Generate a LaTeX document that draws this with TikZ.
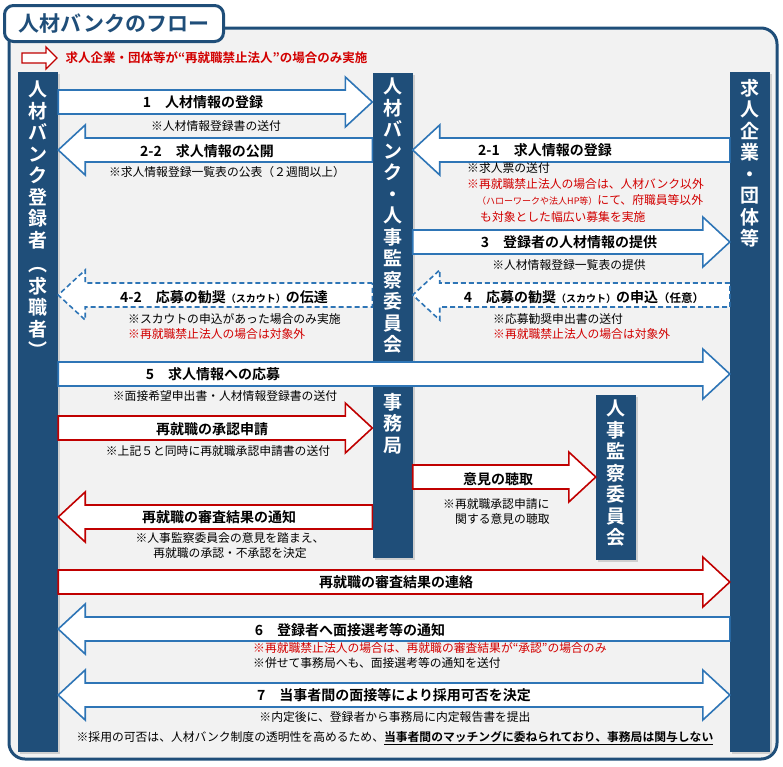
\documentclass[tikz,border=0pt]{standalone}
\usepackage{fontspec}
\setmainfont{Noto Sans CJK JP}[BoldFont={Noto Sans CJK JP Bold}]
\usetikzlibrary{positioning,calc,shadows}

\definecolor{colblue}{RGB}{31,78,121}
\definecolor{arrblue}{RGB}{46,117,182}
\definecolor{arrred}{RGB}{192,0,0}
\definecolor{notered}{RGB}{210,0,0}
\definecolor{panel}{RGB}{242,242,242}

\tikzset{
  col/.style={fill=colblue, minimum width=40pt, inner sep=0pt, anchor=north,
    drop shadow={opacity=0.3, shadow xshift=2pt, shadow yshift=-2pt}},
  coltext/.style={text=white, font=\bfseries\fontsize{19}{21.5}\selectfont, align=center, inner sep=0pt, anchor=north},
  bh/.store in=\bh, bH/.store in=\bH, bL/.store in=\bL,
  bh=12pt, bH=25pt, bL=27pt,
  block/.style={fill=white, line width=1.6pt, line join=miter, to path={
    let \p1=(\tikztostart), \p2=(\tikztotarget), \n1={sign(\x2-\x1)} in
    (\x1,\y1+\bh) -- (\x2-\n1*\bL,\y1+\bh) -- (\x2-\n1*\bL,\y1+\bH) -- (\x2,\y1)
    -- (\x2-\n1*\bL,\y1-\bH) -- (\x2-\n1*\bL,\y1-\bh) -- (\x1,\y1-\bh) -- cycle}},
  dblock/.style={fill=white, line width=1.6pt, line join=miter, to path={
    let \p1=(\tikztostart), \p2=(\tikztotarget), \n1={sign(\x2-\x1)} in
    (\x1,\y1) -- (\x1+\n1*\bL,\y1+\bH) -- (\x1+\n1*\bL,\y1+\bh) -- (\x2-\n1*\bL,\y1+\bh)
    -- (\x2-\n1*\bL,\y1+\bH) -- (\x2,\y1) -- (\x2-\n1*\bL,\y1-\bH) -- (\x2-\n1*\bL,\y1-\bh)
    -- (\x1+\n1*\bL,\y1-\bh) -- (\x1+\n1*\bL,\y1-\bH) -- cycle}},
  blueline/.style={draw=arrblue},
  redline/.style={draw=arrred},
  dashline/.style={draw=arrblue, dash pattern=on 5pt off 3pt},
  lab/.style={font=\bfseries\fontsize{14}{16}\selectfont, inner sep=0pt},
  note/.style={font=\fontsize{11.8}{15}\selectfont, inner sep=0pt},
}

\begin{document}
\begin{tikzpicture}[x=1pt, y=-1pt]
    \useasboundingbox (0,0) rectangle (783,766);
    % frame and title tab
    \draw[colblue, line width=3pt, fill=panel, rounded corners=16pt] (9,28) rectangle (777,759);
    \node (title) [anchor=north west, draw=colblue, line width=3pt, fill=white, rounded corners=9pt, minimum width=219pt, minimum height=36pt, text=colblue, font=\bfseries\fontsize{21}{24}\selectfont] at (3,4) {人材バンクのフロー};

    % legend
    \coordinate (lgA) at (22,58);
    \coordinate (lgB) at (57,58);
    \draw[block, redline, line width=1.4pt, bh=5pt, bH=11pt, bL=11pt] (lgA) to (lgB);
    \node (legend) [anchor=west, text=notered, font=\bfseries\fontsize{12.5}{14}\selectfont] at (62,58) {求人企業・団体等が“再就職禁止法人”の場合のみ実施};

    % columns
    \node (reg) [col, minimum height=680pt] at (38,72) {};
    \node (bank) [col, minimum height=485pt] at (392.5,73) {};
    \node (firm) [col, minimum height=680pt] at (750,72) {};
    \node (cmte) [col, minimum height=165pt] at (616,395) {};
    \node (regtxt) [coltext] at ([yshift=-9pt]reg.north) {人\\材\\バ\\ン\\ク\\登\\録\\者\\[3pt]︵\\求\\職\\者\\︶};
    \node (banktxt) [coltext] at ([yshift=-5pt]bank.north) {人\\材\\バ\\ン\\ク\\・\\人\\事\\監\\察\\委\\員\\会};
    \node (office) [coltext] at ([yshift=-320pt]bank.north) {事\\務\\局};
    \node (firmtxt) [coltext] at ([yshift=-7pt]firm.north) {求\\人\\企\\業\\・\\団\\体\\等};
    \node (cmtetxt) [coltext] at ([yshift=-5pt]cmte.north) {人\\事\\監\\察\\委\\員\\会};

    % flows
    \draw[block, blueline] (reg.east |- 0,102) to (bank.west |- 0,102);
    \draw[block, blueline] (bank.west |- 0,150) to (reg.east |- 0,150);
    \draw[block, blueline] (firm.west |- 0,150) to (bank.east |- 0,150);
    \draw[block, blueline] (bank.east |- 0,242) to (firm.west |- 0,242);
    \draw[block, dashline] (firm.west |- 0,295) to (bank.east |- 0,295);
    \draw[block, dashline] (bank.west |- 0,295) to (reg.east |- 0,295);
    \draw[block, blueline] (reg.east |- 0,374) to (firm.west |- 0,374);
    \draw[block, redline] (reg.east |- 0,428) to (bank.west |- 0,428);
    \draw[block, redline] (bank.east |- 0,477) to (cmte.west |- 0,477);
    \draw[block, redline] (bank.west |- 0,517) to (reg.east |- 0,517);
    \draw[block, redline] (reg.east |- 0,582) to (firm.west |- 0,582);
    \draw[block, blueline] (firm.west |- 0,629) to (reg.east |- 0,629);
    \draw[dblock, blueline] (reg.east |- 0,695) to (firm.west |- 0,695);

    % labels
    \node (l1) [lab] at (203,102) {1　人材情報の登録};
    \node (n1) [note] at (216,126) {※人材情報登録書の送付};
    \node (l22) [lab] at (207,151) {2-2　求人情報の公開};
    \node (n22) [note] at (227,172) {※求人情報登録一覧表の公表（２週間以上）};
    \node (l21) [lab] at (545,150) {2-1　求人情報の登録};
    \node (n21) [note, anchor=north west, align=left, font=\fontsize{11.8}{16.3}\selectfont] at (467,162) {※求人票の送付\\\textcolor{notered}{※再就職禁止法人の場合は、人材バンク以外}\\\hspace*{10pt}\textcolor{notered}{{\fontsize{9}{10}\selectfont（ハローワークや法人HP等）}にて、府職員等以外}\\\hspace*{13pt}\textcolor{notered}{も対象とした幅広い募集を実施}};
    \node (l3) [lab] at (569,242) {3　登録者の人材情報の提供};
    \node (n3) [note] at (569,265) {※人材情報登録一覧表の提供};
    \node (l4) [lab] at (584,297) {4　応募の勧奨{\fontsize{10}{12}\selectfont（スカウト）}の申込{\fontsize{11.5}{12}\selectfont（任意）}};
    \node (n4) [note, anchor=north west, align=left] at (493,313) {※応募勧奨申出書の送付\\\textcolor{notered}{※再就職禁止法人の場合は対象外}};
    \node (l42) [lab] at (224,297) {4-2　応募の勧奨{\fontsize{10}{12}\selectfont（スカウト）}の伝達};
    \node (n42) [note, anchor=north west, align=left] at (128,313) {※スカウトの申込があった場合のみ実施\\\textcolor{notered}{※再就職禁止法人の場合は対象外}};
    \node (l5) [lab] at (213,374) {5　求人情報への応募};
    \node (n5) [note] at (225,396) {※面接希望申出書・人材情報登録書の送付};
    \node (lok) [lab] at (212,429) {再就職の承認申請};
    \node (nok) [note] at (218,451) {※上記５と同時に再就職承認申請書の送付};
    \node (lop) [lab] at (498,479) {意見の聴取};
    \node (nop) [note, anchor=north west, align=left] at (443,498) {※再就職承認申請に\\\hspace*{12pt}関する意見の聴取};
    \node (lres) [lab] at (219,517) {再就職の審査結果の通知};
    \node (nres) [note, align=center] at (230,546) {※人事監察委員会の意見を踏まえ、\\再就職の承認・不承認を決定};
    \node (lcon) [lab] at (396,582) {再就職の審査結果の連絡};
    \node (l6) [lab] at (350,630) {6　登録者へ面接選考等の通知};
    \node (n6) [note, anchor=north west, align=left] at (253,642) {\textcolor{notered}{※再就職禁止法人の場合は、再就職の審査結果が“承認”の場合のみ}\\※併せて事務局へも、面接選考等の通知を送付};
    \node (l7) [lab] at (394,695) {7　当事者間の面接等により採用可否を決定};
    \node (n7) [note] at (395,717) {※内定後に、登録者から事務局に内定報告書を提出};
    \node (nend) [note] at (395,738) {※採用の可否は、人材バンク制度の透明性を高めるため、\underline{\bfseries 当事者間のマッチングに委ねられており、事務局は関与しない}};
\end{tikzpicture}
\end{document}
